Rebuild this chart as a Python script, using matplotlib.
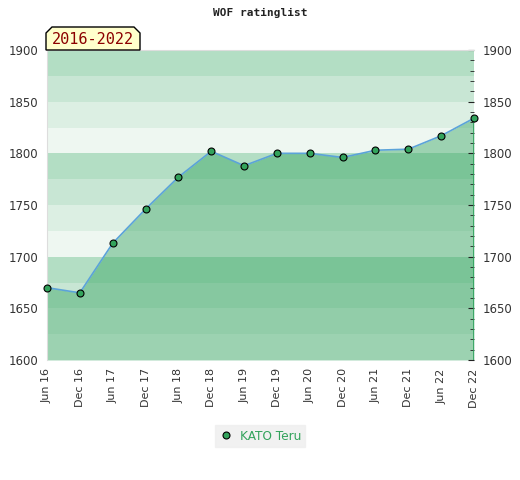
import matplotlib.pyplot as plt
from matplotlib.patches import Polygon
from matplotlib.ticker import MultipleLocator

# rating list, half-yearly
periods = ["Jun 16", "Dec 16", "Jun 17", "Dec 17", "Jun 18", "Dec 18", "Jun 19",
           "Dec 19", "Jun 20", "Dec 20", "Jun 21", "Dec 21", "Jun 22", "Dec 22"]
ratings = [1670, 1665, 1713, 1746, 1777, 1802, 1788,
           1800, 1800, 1796, 1803, 1804, 1817, 1834]
player = "KATO Teru"
span_label = "2016-2022"

y_min, y_max = 1600, 1900
band_colors = ["#eef7f1", "#dcefe3", "#c8e6d4", "#b3dec4"]
green = "#2ca05a"

fig = plt.figure(figsize=(5.2, 4.8), dpi=100)
ax = fig.add_axes([47 / 520, 120 / 480, 427 / 520, 310 / 480])

x = list(range(len(ratings)))

# background bands every 25 points
for i, lo in enumerate(range(y_min, y_max, 25)):
    ax.axhspan(lo, lo + 25, color=band_colors[i % 4], lw=0, zorder=0)

ax.fill_between(x, ratings, y_min, color=green, alpha=0.42, lw=0, zorder=1)
ax.vlines([x[0], x[-1]], y_min, [ratings[0], ratings[-1]], color=green, lw=1.2, zorder=2)
ax.plot(x, ratings, color="#5ba3d9", lw=1.2, zorder=3)
ax.plot(x, ratings, ls="none", marker="o", ms=5, mfc="#33a35c", mec="black", mew=0.8,
        zorder=4, clip_on=False, label=player)

ax.set_xlim(0, len(ratings) - 1)
ax.set_ylim(y_min, y_max)
ax.set_xticks(x)
ax.set_xticklabels(periods, rotation=90, fontsize=8, color="#333333")
ax.tick_params(axis="x", length=0, pad=6)
ax.yaxis.set_major_locator(MultipleLocator(50))
ax.tick_params(axis="y", which="both", left=False, right=True, labelleft=True,
               labelright=True, labelsize=8.5, labelcolor="#333333",
               direction="in", length=4, color="#222222", pad=6)
ax.yaxis.set_minor_locator(MultipleLocator(10))
ax.tick_params(axis="y", which="minor", length=3)

for s in ["left", "top"]:
    ax.spines[s].set_color("#dddddd")
ax.spines["bottom"].set_visible(False)
ax.spines["right"].set_visible(False)

fig.text(0.5, 1 - 13 / 480, "WOF ratinglist", ha="center", va="center",
         fontsize=8, fontweight="bold", family="DejaVu Sans Mono", color="#222222")

# period label tab with chamfered top corners
W, H = 520, 480
px = [(46, 50), (46, 33), (52, 27), (134, 27), (140, 33), (140, 50)]
tab = Polygon([(a / W, 1 - b / H) for a, b in px], closed=True, transform=fig.transFigure,
              facecolor="#ffffcc", edgecolor="black", lw=1, zorder=5)
fig.patches.append(tab)
fig.text(93 / W, 1 - 40 / H, span_label, ha="center", va="center", fontsize=11,
         family="DejaVu Sans Mono", color="#8b0000", zorder=6)

leg = fig.legend(loc="center", bbox_to_anchor=(260 / W, 1 - 436 / H), frameon=True,
                 fontsize=8.7, handletextpad=0.5, handlelength=1.2, borderpad=0.35,
                 fancybox=False)
leg.get_frame().set_facecolor("#eeeeee")
leg.get_frame().set_edgecolor("#eeeeee")
for t in leg.get_texts():
    t.set_color("#33a35c")

fig.savefig("out.png", dpi=100)
